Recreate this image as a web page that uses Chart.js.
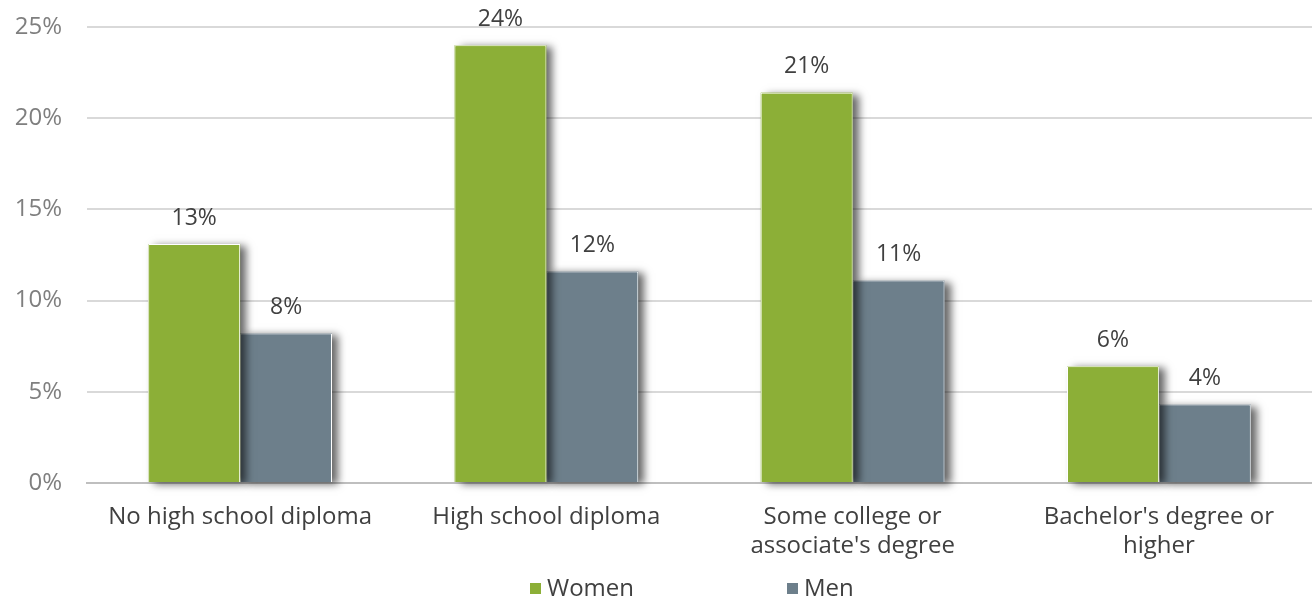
<!DOCTYPE html>
<html>
<head>
<meta charset="utf-8">
<script src="https://cdn.jsdelivr.net/npm/chart.js@4/dist/chart.umd.min.js"></script>
<style>
  html, body { margin: 0; padding: 0; background: #fff; }
  #wrap { width: 1312px; height: 601px; }
</style>
</head>
<body>
<div id="wrap"><canvas id="eduChart" width="1312" height="601"></canvas></div>
<script>
const categories = [
    'No high school diploma',
    'High school diploma',
    ['Some college or', "associate's degree"],
    ["Bachelor's degree or", 'higher']
];
const women = [13.1, 24.0, 21.4, 6.4];
const men = [8.2, 11.6, 11.1, 4.3];
const yTicks = [0, 5, 10, 15, 20, 25];

const FONT = "'Open Sans', sans-serif";

// soft shadow to the right of every bar (bar itself is drawn on top)
const shadowPlugin = {
    id: 'barShadow',
    beforeDatasetDraw: (chart, args) => {
        const ctx = chart.ctx;
        const ds = chart.data.datasets[args.index];
        ctx.save();
        ctx.shadowColor = 'rgba(0,0,0,0.6)';
        ctx.shadowBlur = 8;
        ctx.shadowOffsetX = 6;
        ctx.shadowOffsetY = 2;
        ctx.fillStyle = ds.backgroundColor;
        args.meta.data.forEach((bar) => {
            const p = bar.getProps(['x', 'y', 'base', 'width'], true);
            ctx.fillRect(p.x - p.width / 2, p.y, p.width, p.base - p.y);
        });
        ctx.restore();
    }
};

// value labels above each bar
const valueLabels = {
    id: 'valueLabels',
    afterDatasetsDraw: (chart) => {
        const ctx = chart.ctx;
        ctx.save();
        ctx.font = '23px ' + FONT;
        ctx.fillStyle = '#404040';
        ctx.textAlign = 'center';
        ctx.textBaseline = 'middle';
        chart.data.datasets.forEach((ds, i) => {
            chart.getDatasetMeta(i).data.forEach((bar, j) => {
                ctx.fillText(Math.round(ds.data[j]) + '%', bar.x, bar.y - 26);
            });
        });
        ctx.restore();
    }
};

// legend at the bottom with wide spacing
const bottomLegend = {
    id: 'bottomLegend',
    afterDraw: (chart) => {
        const ctx = chart.ctx;
        ctx.save();
        ctx.font = '24px ' + FONT;
        ctx.textBaseline = 'middle';
        const y = 589;
        const starts = [530, 787];
        chart.data.datasets.forEach((ds, i) => {
            ctx.fillStyle = ds.backgroundColor;
            ctx.fillRect(starts[i], y - 6, 11, 11);
            ctx.fillStyle = '#404040';
            ctx.fillText(ds.label, starts[i] + 17, y);
        });
        ctx.restore();
    }
};

new Chart(document.getElementById('eduChart').getContext('2d'), {
    type: 'bar',
    data: {
        labels: categories,
        datasets: [
            { label: 'Women', data: women, backgroundColor: '#8CAF37', borderColor: '#ffffff', borderWidth: 1 },
            { label: 'Men', data: men, backgroundColor: '#6D7F8B', borderColor: '#ffffff', borderWidth: 1 }
        ]
    },
    plugins: [shadowPlugin, valueLabels, bottomLegend],
    options: {
        responsive: false,
        animation: false,
        layout: { padding: { top: 27, right: 0, left: 0, bottom: 0 } },
        datasets: { bar: { categoryPercentage: 0.6, barPercentage: 1.0 } },
        plugins: {
            legend: { display: false },
            tooltip: { enabled: false }
        },
        scales: {
            x: {
                grid: { display: false },
                border: { color: '#bfbfbf', width: 2 },
                ticks: {
                    color: '#404040',
                    font: { family: FONT, size: 24 },
                    padding: 12,
                    maxRotation: 0,
                    autoSkip: false
                },
                afterFit: (scale) => {
                    scale.height = 118;
                    scale.paddingLeft = 0;
                    scale.paddingRight = 0;
                }
            },
            y: {
                min: 0,
                max: 25,
                afterBuildTicks: (scale) => { scale.ticks = yTicks.map(v => ({ value: v })); },
                grid: { color: '#d9d9d9', lineWidth: 2, drawTicks: false },
                border: { display: false },
                ticks: {
                    color: '#7f7f7f',
                    font: { family: FONT, size: 24 },
                    padding: 25,
                    callback: (v) => v + '%'
                },
                afterFit: (scale) => {
                    scale.width = 87;
                    scale.paddingTop = 0;
                    scale.paddingBottom = 0;
                }
            }
        }
    }
});
</script>
</body>
</html>
